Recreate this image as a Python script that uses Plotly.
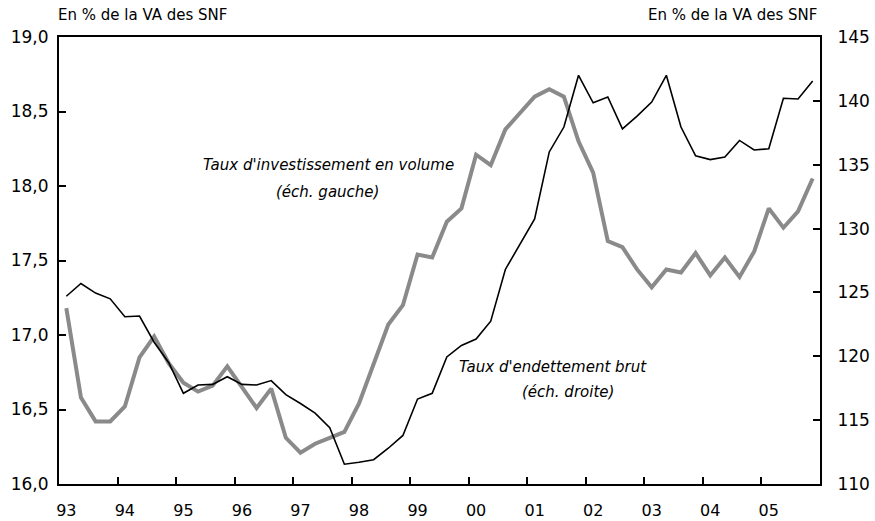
import plotly.graph_objects as go

# Quarterly data 1993Q1 .. 2005Q4
years = list(range(1993, 2006))
quarters = [f"{y}T{q}" for y in years for q in range(1, 5)]

invest = [17.18, 16.58, 16.42, 16.42, 16.52, 16.85, 16.99, 16.81,
          16.68, 16.62, 16.66, 16.79, 16.65, 16.51, 16.64, 16.31,
          16.21, 16.27, 16.31, 16.35, 16.54, 16.81, 17.07, 17.20,
          17.54, 17.52, 17.76, 17.85, 18.21, 18.14, 18.38, 18.49,
          18.60, 18.65, 18.60, 18.30, 18.09, 17.63, 17.59, 17.44,
          17.32, 17.44, 17.42, 17.55, 17.40, 17.52, 17.39, 17.56,
          17.85, 17.72, 17.83, 18.05]

debt = [124.7, 125.7, 124.95, 124.5, 123.1, 123.15, 121.1, 119.5,
        117.1, 117.75, 117.8, 118.4, 117.8, 117.75, 118.1, 117.0,
        116.3, 115.55, 114.4, 111.55, 111.7, 111.9, 112.8, 113.8,
        116.65, 117.1, 119.95, 120.85, 121.35, 122.75, 126.8, 128.8,
        130.75, 136.0, 137.95, 142.0, 139.85, 140.3, 137.8, 138.8,
        139.9, 142.0, 137.95, 135.7, 135.4, 135.6, 136.9, 136.15,
        136.25, 140.2, 140.15, 141.55]

year_labels = ["93", "94", "95", "96", "97", "98", "99", "00", "01", "02", "03", "04", "05"]
left_ticks = [16.0, 16.5, 17.0, 17.5, 18.0, 18.5, 19.0]
left_text = [f"{v:.1f}".replace(".", ",") for v in left_ticks]
right_ticks = [110, 115, 120, 125, 130, 135, 140, 145]

def qpos(label):
    y, q = label.split("T")
    return int(y) + (int(q) - 0.5) / 4

xq = [qpos(q) for q in quarters]

FONT = "DejaVu Sans"

fig = go.Figure()
fig.add_trace(go.Scatter(x=xq, y=invest, mode="lines", yaxis="y",
                         line=dict(color="#8a8a8a", width=4), showlegend=False))
fig.add_trace(go.Scatter(x=xq, y=debt, mode="lines", yaxis="y2",
                         line=dict(color="#000000", width=1.6), showlegend=False))
# invisible trace to carry the label axis
fig.add_trace(go.Scatter(x=[1993], y=[None], xaxis="x2", mode="lines", showlegend=False,
                         hoverinfo="skip"))

axis_common = dict(showgrid=False, zeroline=False, showline=True, linecolor="black",
                   linewidth=2, ticks="inside", ticklen=7, tickwidth=2, tickcolor="black",
                   automargin=False,
                   tickfont=dict(family=FONT, size=17, color="black"))

fig.update_layout(
    width=875, height=521,
    margin=dict(l=59, r=55, t=37, b=37),
    paper_bgcolor="white", plot_bgcolor="white",
    xaxis=dict(range=[1993, 2006], tickvals=years[1:], showticklabels=False,
               mirror=True, **{k: v for k, v in axis_common.items() if k != "tickfont"}),
    xaxis2=dict(range=[1993, 2006], overlaying="x", anchor="y", side="bottom",
                tickvals=[y + 0.125 for y in years], ticktext=year_labels,
                showgrid=False, zeroline=False, showline=False, ticks="",
                automargin=False,
                tickfont=dict(family=FONT, size=16, color="black"),
                ticklabelstandoff=15),
    yaxis=dict(range=[16, 19], tickvals=left_ticks, ticktext=left_text,
               ticklabelstandoff=5, **axis_common),
    yaxis2=dict(range=[110, 145], tickvals=right_ticks, overlaying="y", side="right",
                anchor="x", ticklabelstandoff=12, **axis_common),
)

ann_font = dict(family=FONT, size=15, color="black")
it_font = dict(family=FONT, size=15, color="black", style="italic")
fig.add_annotation(text="En % de la VA des SNF", xref="paper", yref="paper", x=0, y=1,
                   xanchor="left", yanchor="middle", yshift=22, xshift=-3,
                   showarrow=False, font=ann_font)
fig.add_annotation(text="En % de la VA des SNF", xref="paper", yref="paper", x=1, y=1,
                   xanchor="right", yanchor="middle", yshift=22, xshift=-1,
                   showarrow=False, font=ann_font)

def px_to_x(px):
    return 1993 + (px - 59) / 58.5

def px_to_yl(py):
    return 19 - (py - 37) / 149.0

for txt, cx, cy in [("Taux d'investissement en volume", 328, 165),
                    ("(éch. gauche)", 327, 192),
                    ("Taux d'endettement brut", 553, 367),
                    ("(éch. droite)", 568, 392)]:
    fig.add_annotation(text=txt, x=px_to_x(cx), y=px_to_yl(cy), xref="x", yref="y",
                       xanchor="center", yanchor="middle", showarrow=False, font=it_font)

fig.write_html("out.html", config={"displayModeBar": False},
               post_script="document.body.style.margin='0';document.body.style.padding='0';")
